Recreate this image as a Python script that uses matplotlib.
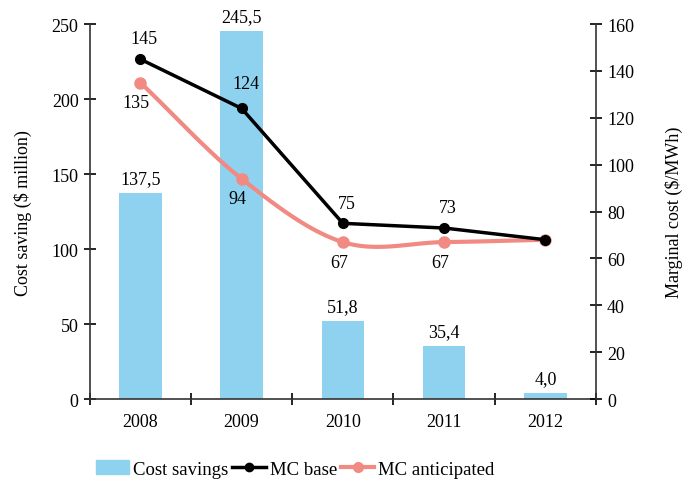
import matplotlib.pyplot as plt
import numpy as np

plt.rcParams['font.family'] = ['Liberation Serif', 'DejaVu Serif']
plt.rcParams['font.size'] = 13

years = ['2008', '2009', '2010', '2011', '2012']
cost_savings = [137.5, 245.5, 51.8, 35.4, 4.0]
mc_base = [145, 124, 75, 73, 68]
mc_anticipated = [135, 94, 67, 67, 68]
base_labels = ['145', '124', '75', '73', '']
antic_labels = ['135', '94', '67', '67', '']

BAR_COLOR = '#8ed2f0'
RED = '#f28a84'


def catmull_rom(xs, ys, n=30):
    """Smooth curve through the points, like a spreadsheet smoothed line"""
    px = np.concatenate([[2 * xs[0] - xs[1]], xs, [2 * xs[-1] - xs[-2]]])
    py = np.concatenate([[2 * ys[0] - ys[1]], ys, [2 * ys[-1] - ys[-2]]])
    out_x, out_y = [], []
    for i in range(1, len(px) - 2):
        t = np.linspace(0, 1, n)
        for p, out in ((px, out_x), (py, out_y)):
            p0, p1, p2, p3 = p[i - 1], p[i], p[i + 1], p[i + 2]
            out.extend(0.5 * ((2 * p1) + (-p0 + p2) * t
                              + (2 * p0 - 5 * p1 + 4 * p2 - p3) * t ** 2
                              + (-p0 + 3 * p1 - 3 * p2 + p3) * t ** 3))
    return np.array(out_x), np.array(out_y)


def main():
    fig = plt.figure(figsize=(6.85, 4.81), dpi=100)
    ax = fig.add_axes([0.131, 0.168, 0.739, 0.780])
    x = np.arange(len(years))

    ax.bar(x, cost_savings, width=0.42, color=BAR_COLOR, label='Cost savings', zorder=1)
    for xi, v in zip(x, cost_savings):
        ax.text(xi, v + 4, f'{v:.1f}'.replace('.', ','), ha='center', va='bottom')

    ax.set_xlim(-0.5, 4.5)
    ax.set_ylim(0, 250)
    ax.set_yticks(range(0, 251, 50))
    ax.set_xticks(x)
    ax.set_xticklabels(years)
    ax.set_xticks(np.arange(-0.5, 4.6, 1), minor=True)
    ax.tick_params(axis='x', which='major', length=0, pad=10)
    ax.tick_params(axis='x', which='minor', direction='inout', length=8, width=1.2)
    ax.tick_params(axis='y', direction='inout', length=8, width=1.2, pad=4)
    ax.set_ylabel('Cost saving ($ million)', labelpad=14)
    for s in ['top', 'right']:
        ax.spines[s].set_visible(False)
    for s in ['left', 'bottom']:
        ax.spines[s].set_linewidth(1.2)
        ax.spines[s].set_color('#333333')

    ax2 = ax.twinx()
    sx, sy = catmull_rom(x.astype(float), np.array(mc_anticipated, dtype=float))
    ax2.plot(sx, sy, color=RED, lw=3, zorder=2)
    ax2.plot(x, mc_anticipated, 'o', color=RED, ms=8, zorder=2)
    ax2.plot(x, mc_base, '-o', color='black', lw=2.5, ms=7, zorder=3)
    ax2.set_ylim(0, 160)
    ax2.set_yticks(range(0, 161, 20))
    ax2.tick_params(axis='y', direction='inout', length=8, width=1.2, pad=4)
    ax2.set_ylabel('Marginal cost ($/MWh)', labelpad=22)
    for s in ['top', 'left', 'bottom']:
        ax2.spines[s].set_visible(False)
    ax2.spines['right'].set_linewidth(1.2)
    ax2.spines['right'].set_color('#333333')

    for xi, v, lab in zip(x, mc_base, base_labels):
        if lab:
            off = 7 if xi == 1 else 5
            ax2.text(xi + 0.04, v + off, lab, ha='center', va='bottom')
    for xi, v, lab in zip(x, mc_anticipated, antic_labels):
        if lab:
            ax2.text(xi - 0.04, v - 5, lab, ha='center', va='top')

    handles = [
        plt.Rectangle((0, 0), 1, 1, color=BAR_COLOR),
        plt.Line2D([], [], color='black', lw=2.5, marker='o', ms=6),
        plt.Line2D([], [], color=RED, lw=3, marker='o', ms=7),
    ]
    fig.legend(handles, ['Cost savings', 'MC base', 'MC anticipated'],
               loc='lower left', bbox_to_anchor=(0.115, -0.03), ncol=3, frameon=False,
               handlelength=1.8, handletextpad=0.2, columnspacing=0.2,
               prop={'size': 13.5})

    fig.savefig('out.png', dpi=100)


if __name__ == '__main__':
    main()
